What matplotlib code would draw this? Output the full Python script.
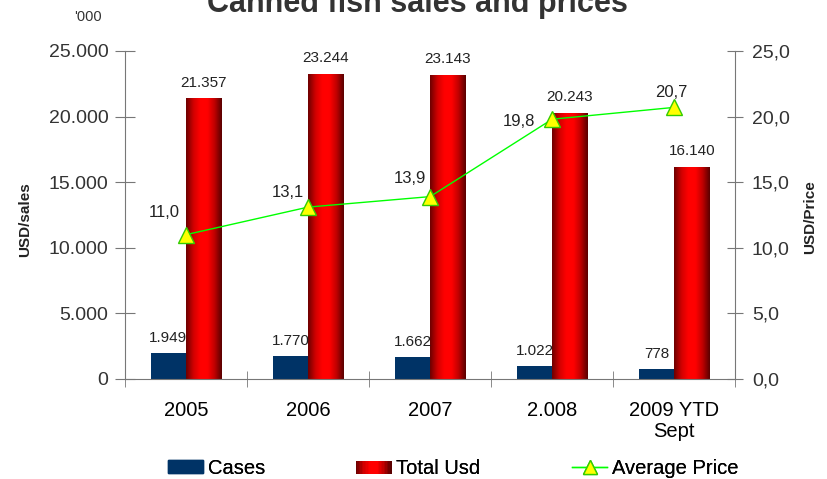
import numpy as np
import matplotlib.pyplot as plt
from matplotlib.legend_handler import HandlerBase
from matplotlib.patches import Rectangle
from matplotlib.lines import Line2D
from matplotlib.colors import LinearSegmentedColormap

plt.rcParams['font.family'] = ['Liberation Sans', 'DejaVu Sans']

# data
years = ['2005', '2006', '2007', '2.008', '2009 YTD\nSept']
cases = [1949, 1770, 1662, 1022, 778]
total_usd = [21357, 23244, 23143, 20243, 16140]
avg_price = [11.0, 13.1, 13.9, 19.8, 20.7]

cases_lbl = ['1.949', '1.770', '1.662', '1.022', '778']
usd_lbl = ['21.357', '23.244', '23.143', '20.243', '16.140']
price_lbl = ['11,0', '13,1', '13,9', '19,8', '20,7']
# label offsets in pixels (dx, dy up)
price_off = [(-22, 22), (-20, 15), (-20, 18), (-33, -2), (-3, 15)]

navy = '#003366'
grey = '#777777'
txt = '#222222'
red_cmap = LinearSegmentedColormap.from_list(
    'rb', ['#6e0000', '#d00000', '#ff0000', '#ff0000', '#c00000', '#5a0000'])
px = 72 / 100  # pixels -> points

fig = plt.figure(figsize=(8.28, 4.79), dpi=100)
ax = fig.add_axes([0.151, 0.2088, 0.737, 0.6848])
x = np.arange(len(years))
w = 0.29

ax.bar(x, cases, width=-w, align='edge', color=navy, zorder=2)
grad = np.linspace(0, 1, 64).reshape(1, -1)
for xi, v in zip(x, total_usd):
    ax.imshow(grad, cmap=red_cmap, extent=(xi, xi + w, 0, v),
              aspect='auto', zorder=2, interpolation='bicubic')

ax.set_xlim(-0.5, 4.5)
ax.set_ylim(0, 25000)
ax.set_yticks(np.arange(0, 25001, 5000))
ax.set_yticklabels(['0', '5.000', '10.000', '15.000', '20.000', '25.000'])
ax.set_xticks(x)
ax.set_xticklabels(years, linespacing=1.1)
ax.set_xticks(np.arange(-0.5, 5, 1), minor=True)
ax.tick_params(axis='x', which='major', length=0, labelsize=14.5, pad=16,
               labelcolor='black')
ax.tick_params(axis='x', which='minor', direction='inout', length=12, color=grey)
ax.tick_params(axis='y', direction='inout', length=14, color=grey, labelsize=14,
               pad=5, labelcolor='#333333')
for s in ['top', 'right']:
    ax.spines[s].set_visible(False)
for s in ['left', 'bottom']:
    ax.spines[s].set_color(grey)

for xi, v, t in zip(x, cases, cases_lbl):
    ax.annotate(t, (xi - w / 2, v), xytext=(0, 15 * px), textcoords='offset points',
                ha='center', va='center', fontsize=11, color=txt)
for xi, v, t in zip(x, total_usd, usd_lbl):
    ax.annotate(t, (xi + w / 2, v), xytext=(0, 16 * px), textcoords='offset points',
                ha='center', va='center', fontsize=11, color=txt)

ax2 = ax.twinx()
ax2.set_ylim(0, 25)
ax2.set_yticks(np.arange(0, 26, 5))
ax2.set_yticklabels([f'{v:.1f}'.replace('.', ',') for v in np.arange(0, 26, 5)])
ax2.tick_params(axis='y', direction='inout', length=12, color=grey, labelsize=14,
                pad=6, labelcolor='#333333')
for s in ['top', 'left', 'bottom']:
    ax2.spines[s].set_visible(False)
ax2.spines['right'].set_color(grey)
ax2.plot(x, avg_price, color='#00ff00', lw=1, marker='^', ms=11,
         markerfacecolor='#ffff00', markeredgecolor='#33cc00', zorder=3)
for xi, v, t, off in zip(x, avg_price, price_lbl, price_off):
    ax2.annotate(t, (xi, v), xytext=(off[0] * px, off[1] * px),
                 textcoords='offset points', ha='center', va='center',
                 fontsize=12, color=txt)

fig.text(25 / 828, 1 - 220 / 479, 'USD/sales', rotation=90, ha='center',
         va='center', fontsize=11, fontweight='bold', color=txt)
fig.text(810 / 828, 1 - 217 / 479, 'USD/Price', rotation=90, ha='center',
         va='center', fontsize=11, fontweight='bold', color=txt)
fig.text(0.504, 1 - 12 / 479, 'Canned fish sales and prices', ha='center',
         va='baseline', fontsize=22, fontweight='bold', color='#333333')
fig.text(88 / 828, 1 - 17 / 479, "'000", ha='center', va='center', fontsize=10.5,
         color='#333333')


class GradHandler(HandlerBase):
    def create_artists(self, legend, orig, xd, yd, width, height, fontsize, trans):
        n = 24
        arts = []
        for i in range(n):
            r = Rectangle((xd + width * i / n, yd), width / n + 0.3, height,
                          facecolor=red_cmap(i / (n - 1)), edgecolor='none',
                          transform=trans)
            arts.append(r)
        return arts


h1 = Rectangle((0, 0), 1, 1, color=navy)
h2 = Rectangle((0, 0), 1, 1, color='red')
h3 = Line2D([], [], color='#00ff00', lw=1, marker='^', ms=10,
            markerfacecolor='#ffff00', markeredgecolor='#33cc00')
leg_items = [(h1, 'Cases', 168), (h2, 'Total Usd', 356), (h3, 'Average Price', 572)]
for h, lab, lx in leg_items:
    lg = fig.legend([h], [lab], handler_map={h2: GradHandler()},
                    loc='center left', bbox_to_anchor=(lx / 828, 1 - 468 / 479),
                    frameon=False, fontsize=14.5, borderpad=0, borderaxespad=0,
                    handlelength=1.75, handleheight=0.6, handletextpad=0.25)
    fig.add_artist(lg)

fig.savefig('out.png', dpi=100)
